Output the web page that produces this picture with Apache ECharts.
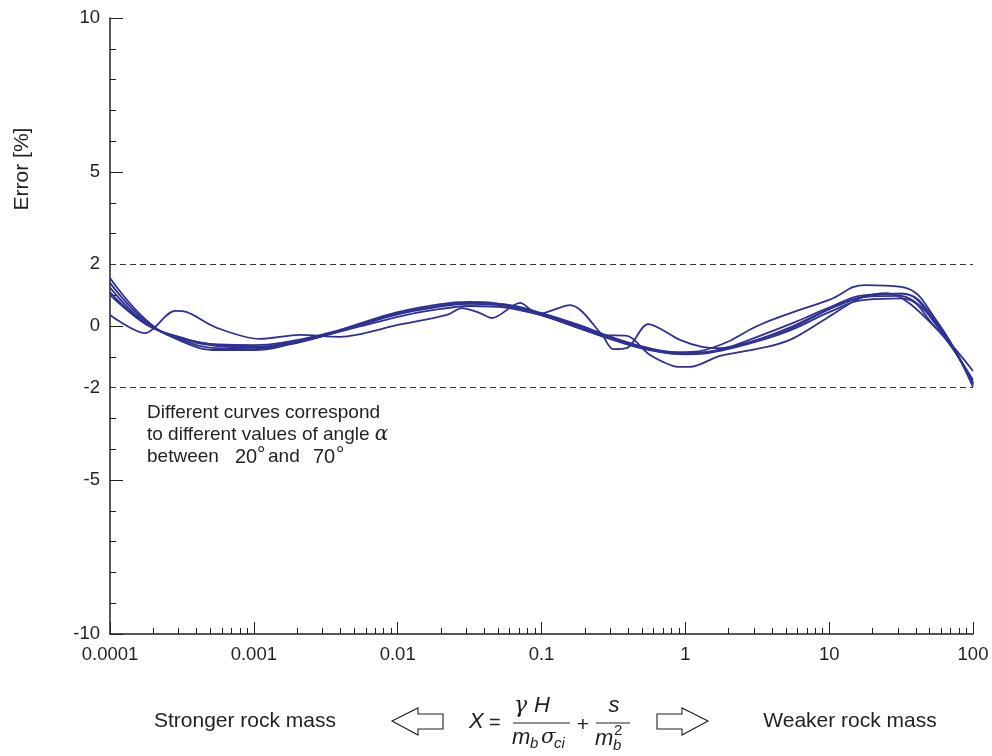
<!DOCTYPE html>
<html>
<head>
<meta charset="utf-8">
<script src="https://cdn.jsdelivr.net/npm/echarts@6/dist/echarts.min.js"></script>
<style>html,body{margin:0;padding:0;background:#fff;}#c{width:992px;height:756px;}</style>
</head>
<body>
<div id="c"></div>
<script>
// ---- data ----
var xTickLabels = ['0.0001', '0.001', '0.01', '0.1', '1', '10', '100'];
var yTickLabels = [10, 5, 2, 0, -2, -5, -10];
var xMinorTicks = [
  0.0002,0.0003,0.0004,0.0005,0.0006,0.0007,0.0008,0.0009,
  0.002,0.003,0.004,0.005,0.006,0.007,0.008,0.009,
  0.02,0.03,0.04,0.05,0.06,0.07,0.08,0.09,
  0.2,0.3,0.4,0.5,0.6,0.7,0.8,0.9,
  2,3,4,5,6,7,8,9,
  20,30,40,50,60,70,80,90
];
var xGrid = [0.0001,0.000178,0.000316,0.000562,0.001,0.00178,0.00316,0.00562,0.01,0.0178,0.0316,0.0562,
             0.1,0.178,0.316,0.562,1,1.78,3.16,5.62,10,17.8,31.6,56.2,100];
var curveS1 = [1.56,0.2,-0.5,-0.78,-0.78,-0.6,-0.3,0.1,0.45,0.68,0.78,0.68,0.35,-0.05,-0.45,-0.75,-0.85,-0.6,0.0,0.45,0.85,1.33,1.27,0.15,-1.98];
var curveS2 = [1.4,0.15,-0.45,-0.72,-0.75,-0.58,-0.3,0.05,0.4,0.62,0.75,0.7,0.42,0.05,-0.38,-0.72,-0.88,-0.75,-0.35,0.1,0.6,1.0,1.05,0.0,-1.85];
var curveS3 = [1.25,0.1,-0.4,-0.65,-0.7,-0.55,-0.28,0.05,0.38,0.6,0.72,0.66,0.4,0.02,-0.4,-0.75,-0.92,-0.8,-0.45,0.0,0.55,0.95,1.05,0.1,-1.9];
var curveS4 = [1.1,0.08,-0.38,-0.6,-0.62,-0.5,-0.25,0.08,0.4,0.62,0.75,0.65,0.35,-0.05,-0.45,-0.78,-0.9,-0.78,-0.5,-0.1,0.45,0.85,0.9,-0.1,-1.46];
var xW1 = [0.0001,0.000175,0.000283,0.000343,0.000555,0.0011,0.00209,0.00397,0.0104,0.022,0.028,0.0373,0.0453,
           0.071,0.0946,0.158,0.264,0.314,0.394,0.551,0.918,1.31,1.78,3.16,5.62,10,17.8,31.6,56.2,100];
var curveW1 = [0.36,-0.23,0.49,0.45,-0.06,-0.42,-0.29,-0.35,0.05,0.36,0.58,0.42,0.26,
               0.75,0.39,0.68,-0.29,-0.75,-0.71,0.06,-0.45,-0.68,-0.72,-0.45,-0.05,0.55,0.95,0.98,0.05,-1.85];
var xW2 = [0.0001,0.000178,0.000316,0.000562,0.001,0.00178,0.00316,0.00562,0.01,0.0178,0.0316,0.0562,0.1,0.178,
           0.264,0.394,0.568,0.918,1.08,1.74,3.7,5.62,9.66,16.4,25.2,56.2,100];
var curveW2 = [1.0,0.05,-0.4,-0.62,-0.68,-0.55,-0.3,0.0,0.3,0.52,0.65,0.6,0.35,0.0,
               -0.29,-0.32,-0.94,-1.33,-1.33,-0.97,-0.68,-0.4,0.26,0.9,1.07,-0.1,-1.75];
var limitLines = [2, -2];

// ---- chart ----
var FONT = "'Liberation Sans', Arial, Helvetica, sans-serif";
var INK = '#231f20';
var BLUE = '#2e3192';
function pairs(xs, ys) { return xs.map(function (x, i) { return [x, ys[i]]; }); }
function lineSeries(xs, ys, smooth, extra) {
  var s = {
    type: 'line', xAxisIndex: 0, yAxisIndex: 0, data: pairs(xs, ys),
    showSymbol: false, smooth: smooth, animation: false, silent: true,
    lineStyle: { color: BLUE, width: 1.8 }, itemStyle: { color: BLUE }
  };
  if (extra) for (var k in extra) s[k] = extra[k];
  return s;
}
var series = [
  lineSeries(xGrid, curveS1, 0.45, {
    markLine: {
      symbol: 'none', silent: true, animation: false,
      label: { show: false },
      lineStyle: { color: '#333', type: [6, 4], width: 1.2 },
      data: limitLines.map(function (v) { return { yAxis: v }; })
    }
  }),
  lineSeries(xGrid, curveS2, 0.45),
  lineSeries(xGrid, curveS3, 0.45),
  lineSeries(xGrid, curveS4, 0.45),
  lineSeries(xW1, curveW1, 0.3),
  lineSeries(xW2, curveW2, 0.3)
];

var txt = function (x, y, text, opt) {
  opt = opt || {};
  return {
    type: 'text', x: x, y: y, rotation: opt.rotation || 0, silent: true,
    style: {
      text: text, fill: INK, fontFamily: opt.family || FONT, fontSize: opt.size || 19,
      fontStyle: opt.italic ? 'italic' : 'normal',
      align: opt.align || 'left', verticalAlign: opt.va || 'middle',
      rich: opt.rich
    }
  };
};
var graphics = [
  txt(22, 169, 'Error [%]', { rotation: Math.PI / 2, align: 'center', size: 21 }),
  txt(147, 413, 'Different curves correspond'),
  txt(147, 435, 'to different values of angle {a|α}', { rich: { a: { fontStyle: 'italic', fontSize: 20, fontFamily: "'DejaVu Serif', serif", fill: INK } } }),
  txt(147, 457, 'between'),
  txt(235, 457, '20', { size: 20 }),
  txt(257, 455, '°', { size: 21 }),
  txt(268, 457, 'and'),
  txt(313, 457, '70', { size: 20 }),
  txt(336, 455, '°', { size: 21 }),
  txt(245, 721, 'Stronger rock mass', { align: 'center', size: 21 }),
  txt(850, 721, 'Weaker rock mass', { align: 'center', size: 21 }),
  // arrows
  { type: 'polygon', silent: true, shape: { points: [[392,721],[418,708],[418,714],[443,714],[443,729],[418,729],[418,735]] },
    style: { fill: '#fff', stroke: INK, lineWidth: 1.1 } },
  { type: 'polygon', silent: true, shape: { points: [[708,721],[682,708],[682,714],[657,714],[657,729],[682,729],[682,735]] },
    style: { fill: '#fff', stroke: INK, lineWidth: 1.1 } },
  // formula
  txt(469, 722, 'X', { italic: true, size: 22 }),
  txt(489, 723, '=', { size: 20 }),
  txt(514, 706, 'γ', { italic: true, size: 22, family: "'DejaVu Serif', serif" }),
  txt(534, 706, 'H', { italic: true, size: 22 }),
  { type: 'line', silent: true, shape: { x1: 513, y1: 723, x2: 570, y2: 723 }, style: { stroke: INK, lineWidth: 1.1 } },
  txt(512, 738, 'm', { italic: true, size: 22 }),
  txt(530, 744, 'b', { italic: true, size: 15 }),
  txt(541, 738, 'σ', { italic: true, size: 21, family: "'DejaVu Serif', serif" }),
  txt(554, 744, 'ci', { italic: true, size: 15 }),
  txt(583, 725, '+', { size: 21, align: 'center' }),
  txt(614, 706, 's', { italic: true, size: 22, align: 'center' }),
  { type: 'line', silent: true, shape: { x1: 596, y1: 723, x2: 630, y2: 723 }, style: { stroke: INK, lineWidth: 1.1 } },
  txt(595, 739, 'm', { italic: true, size: 22 }),
  txt(613, 746, 'b', { italic: true, size: 15 }),
  txt(614, 731, '2', { size: 15 })
];

var chart = echarts.init(document.getElementById('c'), null, { renderer: 'canvas' });
chart.setOption({
  animation: false,
  backgroundColor: '#fff',
  grid: { left: 110, right: 19, top: 18, bottom: 122, containLabel: false },
  xAxis: [
    {
      type: 'log', logBase: 10, min: 0.0001, max: 100, position: 'bottom',
      axisLine: { show: true, onZero: false, lineStyle: { color: INK, width: 1.5 } },
      axisTick: { show: true, inside: true, length: 12, lineStyle: { color: INK, width: 1 } },
      minorTick: { show: false },
      splitLine: { show: false },
      axisLabel: {
        color: INK, fontSize: 18.5, fontFamily: FONT, margin: 11,
        formatter: function (v) { return xTickLabels[Math.round(Math.log10(v)) + 4]; }
      }
    },
    {
      type: 'log', logBase: 10, min: 0.0001, max: 100, position: 'bottom',
      axisLine: { show: false, onZero: false },
      axisTick: { show: true, inside: true, length: 6, customValues: xMinorTicks, lineStyle: { color: INK, width: 1 } },
      axisLabel: { show: false },
      splitLine: { show: false }
    }
  ],
  yAxis: {
    type: 'value', min: -10, max: 10, interval: 5,
    axisLine: { show: true, onZero: false, lineStyle: { color: INK, width: 1.5 } },
    axisTick: { show: true, inside: true, length: 13, lineStyle: { color: INK, width: 1 } },
    minorTick: { show: true, splitNumber: 5, length: 6, lineStyle: { color: INK, width: 1 } },
    splitLine: { show: false },
    axisLabel: { color: INK, fontSize: 18.5, fontFamily: FONT, margin: 10, customValues: yTickLabels }
  },
  series: series,
  graphic: graphics
});
</script>
</body>
</html>
